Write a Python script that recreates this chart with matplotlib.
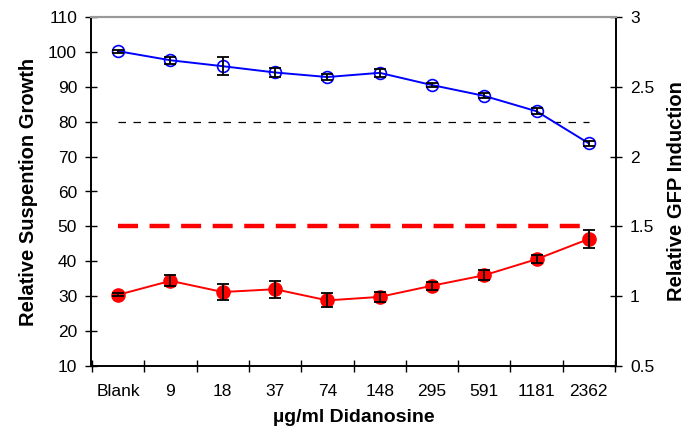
import matplotlib
matplotlib.use('Agg')
import matplotlib.pyplot as plt
import numpy as np

plt.rcParams['font.family'] = ['Liberation Sans', 'DejaVu Sans']

# Data
doses = ['Blank', '9', '18', '37', '74', '148', '295', '591', '1181', '2362']
growth = [100.2, 97.6, 95.9, 94.1, 92.8, 94.0, 90.5, 87.4, 83.0, 73.8]
growth_err = [0.4, 1.0, 2.5, 1.2, 0.9, 1.2, 0.6, 0.7, 0.8, 0.8]
gfp = [1.01, 1.11, 1.03, 1.05, 0.97, 0.995, 1.075, 1.15, 1.265, 1.41]
gfp_err = [0.01, 0.04, 0.06, 0.06, 0.05, 0.035, 0.03, 0.035, 0.03, 0.065]
growth_ref = 80
gfp_ref = 1.5

x = np.arange(len(doses))

fig = plt.figure(figsize=(6.93, 4.36), dpi=100)
ax = fig.add_axes([91/693, 70/436, 525/693, 349/436])
ax2 = ax.twinx()

# left axis: suspension growth
ax.plot([x[0], x[-1]], [growth_ref, growth_ref], color='black', lw=0.9,
        dashes=(6, 6), zorder=2)
ax.plot(x, growth, color='#0000ff', lw=1.4, marker='o', ms=8.5,
        mfc='none', mec='#0000ff', mew=1.2, zorder=3)
ax.errorbar(x, growth, yerr=growth_err, fmt='none', ecolor='black',
            elinewidth=1.3, capsize=4, capthick=1.3, zorder=4)

# right axis: GFP induction
ax2.plot([x[0], x[-1]], [gfp_ref, gfp_ref], color='#ff0000', lw=3.2,
         dashes=(4.5, 2.6), zorder=2)
ax2.plot(x, gfp, color='#ff0000', lw=1.4, marker='o', ms=9.5,
         mfc='#ff0000', mec='#ff0000', zorder=3)
ax2.errorbar(x, gfp, yerr=gfp_err, fmt='none', ecolor='black',
             elinewidth=1.3, capsize=4, capthick=1.3, zorder=4)

ax.set_xlim(-0.52, len(doses) - 0.48)
ax.set_ylim(10, 110)
ax2.set_ylim(0.5, 3)
ax.set_yticks(np.arange(10, 111, 10))
ax2.set_yticks(np.arange(0.5, 3.01, 0.5))
ax2.set_yticklabels(['0.5', '1', '1.5', '2', '2.5', '3'])

ax.set_xticks(x)
ax.set_xticklabels(doses)
ax.set_xticks(np.arange(-0.5, len(doses), 1.0), minor=True)
ax.tick_params(axis='x', which='major', length=0, pad=13, labelsize=12.5)
ax.tick_params(axis='x', which='minor', direction='inout', length=8, width=1)
ax.tick_params(axis='y', direction='inout', length=8, width=1, pad=6,
               labelsize=12.5)
ax2.tick_params(axis='y', direction='inout', length=8, width=1, pad=6,
                labelsize=12.5)

for a in (ax, ax2):
    a.spines['top'].set_color('#999999')
    a.spines['top'].set_linewidth(1.5)
    a.spines['left'].set_linewidth(1.2)
    a.spines['right'].set_linewidth(1.2)
    a.spines['bottom'].set_linewidth(1.2)

ax.set_ylabel('Relative Suspention Growth', fontsize=14.5, fontweight='bold',
              labelpad=7)
ax2.set_ylabel('Relative GFP Induction', fontsize=14.5, fontweight='bold',
               labelpad=9)
ax.set_xlabel('µg/ml Didanosine', fontsize=14, fontweight='bold', labelpad=7)

fig.savefig('out.png', dpi=100)
